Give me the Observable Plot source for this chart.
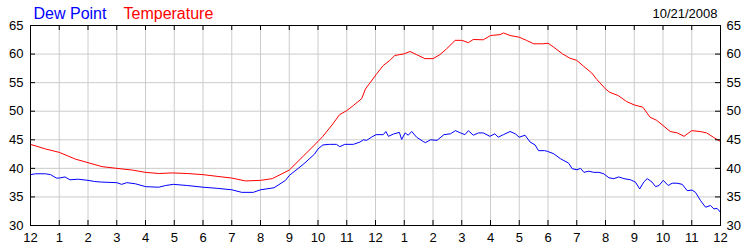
<!DOCTYPE html>
<html><head><meta charset="utf-8">
<script src="https://cdn.jsdelivr.net/npm/d3@7"></script>
<script src="https://cdn.jsdelivr.net/npm/@observablehq/plot@0.6"></script>
<style>html,body{margin:0;padding:0;background:#fff}svg{display:block}</style>
</head><body><div id="chart"></div>
<script>
const tempHours = [0,0.52,1.0,1.57,2.0,2.49,3.0,3.54,4.0,4.46,4.93,5.45,6.0,6.49,7.0,7.48,8.0,8.41,9.0,9.5,10.0,10.17,10.52,10.75,11.0,11.23,11.52,11.65,11.83,12.02,12.27,12.5,12.67,13.0,13.2,13.43,13.72,14.0,14.24,14.47,14.77,15.0,15.23,15.4,15.75,16.0,16.33,16.45,16.68,17.0,17.25,17.5,17.83,18.0,18.2,18.5,18.75,19.0,19.23,19.52,19.7,20.0,20.15,20.44,20.73,21.0,21.3,21.55,21.78,22.0,22.25,22.5,22.73,23.0,23.29,23.52,23.75,24.0];
const tempValues = [44.2,43.4,42.8,41.6,41.0,40.3,40.0,39.7,39.3,39.1,39.2,39.1,38.9,38.6,38.3,37.8,37.9,38.2,39.7,42.2,44.7,45.6,47.8,49.4,50.1,51.0,52.2,53.9,55.1,56.4,58.0,58.9,59.75,60.05,60.45,59.9,59.2,59.2,59.9,60.9,62.4,62.4,62.0,62.55,62.5,63.25,63.4,63.7,63.25,62.95,62.4,61.8,61.8,61.9,61.2,60.05,59.3,58.9,57.9,56.7,55.55,53.9,53.3,52.75,51.7,51.1,50.7,48.95,48.4,47.5,46.45,46.2,45.6,46.6,46.45,46.2,45.45,44.7];
const dewHours = [0,0.17,0.52,0.7,0.9,1.0,1.2,1.37,1.66,2.0,2.23,2.46,3.0,3.17,3.35,3.65,4.0,4.46,4.7,4.97,5.45,6.0,6.5,7.0,7.35,7.75,8.0,8.47,8.87,9.0,9.51,9.88,10.0,10.17,10.4,10.64,10.76,10.93,11.23,11.46,11.58,11.69,11.86,12.02,12.27,12.36,12.45,12.62,12.83,12.91,13.03,13.14,13.26,13.43,13.66,13.74,13.91,14.14,14.38,14.61,14.78,14.96,15.11,15.23,15.4,15.58,15.75,15.98,16.15,16.27,16.45,16.68,16.86,17.0,17.2,17.38,17.55,17.67,17.88,17.97,18.2,18.43,18.72,18.84,19.01,19.13,19.25,19.42,19.59,19.77,19.94,20.12,20.29,20.46,20.64,20.87,21.04,21.19,21.33,21.45,21.62,21.74,21.86,22.01,22.18,22.32,22.49,22.67,22.84,23.01,23.13,23.3,23.48,23.65,23.77,23.88,24.0];
const dewValues = [38.9,39.05,39.05,38.9,38.3,38.3,38.5,38.0,38.1,37.9,37.7,37.6,37.5,37.2,37.5,37.3,36.8,36.7,37.0,37.2,37.0,36.7,36.5,36.25,35.8,35.8,36.25,36.6,37.9,38.75,40.8,42.5,43.4,44.1,44.2,44.2,43.8,44.2,44.2,44.6,45.0,44.9,45.45,45.9,45.9,46.45,45.6,46.0,46.3,45.05,46.2,45.8,46.45,45.45,44.7,44.5,45.0,44.9,45.9,46.05,46.6,46.2,45.9,46.6,45.8,46.2,46.2,45.6,46.05,45.45,45.9,46.45,46.05,45.45,45.8,44.6,44.1,43.1,43.1,43.0,42.55,41.7,40.9,39.95,39.75,40.0,39.3,39.5,39.3,39.3,39.05,38.35,38.2,38.5,38.2,38.0,37.6,36.4,37.6,38.2,37.6,36.8,37.0,37.9,37.0,37.4,37.4,37.2,36.1,36.2,35.8,34.4,33.2,33.5,32.9,33.0,32.3];
const hourTicks = d3.range(0, 25);
const hourLabels = ["12","1","2","3","4","5","6","7","8","9","10","11","12","1","2","3","4","5","6","7","8","9","10","11","12"];
const degreeTicks = [30,35,40,45,50,55,60,65];
const dewTitle = "Dew Point";
const tempTitle = "Temperature";
const dateLabel = "10/21/2008";

const temp = tempHours.map((h, i) => ({h, v: tempValues[i]}));
const dew = dewHours.map((h, i) => ({h, v: dewValues[i]}));

const W = 750, H = 250, mL = 30, mR = 30, mT = 25, mB = 25;
const innerW = W - mL - mR, innerH = H - mT - mB, tk = 5;
const font = "Arial, 'Liberation Sans', sans-serif";

const chart = Plot.plot({
  width: W, height: H,
  marginLeft: mL, marginRight: mR, marginTop: mT, marginBottom: mB,
  style: {fontFamily: font, fontSize: "13px", color: "#000", background: "#fff", overflow: "visible"},
  x: {domain: [0, 24], label: null},
  y: {domain: [30, 65], label: null},
  marks: [
    Plot.gridX(hourTicks, {stroke: "#cccccc", strokeOpacity: 1}),
    Plot.gridY(degreeTicks, {stroke: "#cccccc", strokeOpacity: 1}),
    Plot.line(temp, {x: "h", y: "v", stroke: "#ff0000", strokeWidth: 1}),
    Plot.line(dew, {x: "h", y: "v", stroke: "#0000ff", strokeWidth: 1}),
    Plot.ruleX(hourTicks, {x: d => d, insetTop: innerH - tk, stroke: "#000"}),
    Plot.ruleX(hourTicks, {x: d => d, insetBottom: innerH - tk, stroke: "#000"}),
    Plot.ruleY(degreeTicks, {y: d => d, insetRight: innerW - tk, stroke: "#000"}),
    Plot.ruleY(degreeTicks, {y: d => d, insetLeft: innerW - tk, stroke: "#000"}),
    Plot.frame({stroke: "#000"}),
    Plot.axisX(hourTicks, {anchor: "bottom", label: null, tickSize: 0, tickPadding: 7, tickFormat: d => hourLabels[d], fontSize: 13, fill: "#000"}),
    Plot.axisY(degreeTicks, {anchor: "left", label: null, tickSize: 0, tickPadding: 7, fontSize: 13, fill: "#000"}),
    Plot.axisY(degreeTicks, {anchor: "right", label: null, tickSize: 0, tickPadding: 6, fontSize: 13, fill: "#000"}),
    Plot.text([dewTitle], {frameAnchor: "top-left", text: d => d, textAnchor: "start", lineAnchor: "bottom", dx: 3, dy: -7, fill: "#0000ff", fontSize: 16}),
    Plot.text([tempTitle], {frameAnchor: "top-left", text: d => d, textAnchor: "start", lineAnchor: "bottom", dx: 93, dy: -7, fill: "#ff0000", fontSize: 16}),
    Plot.text([dateLabel], {frameAnchor: "top-right", text: d => d, textAnchor: "end", lineAnchor: "bottom", dx: -3, dy: -8, fill: "#000", fontSize: 13})
  ]
});
document.getElementById("chart").appendChild(chart);
</script>
</body></html>
